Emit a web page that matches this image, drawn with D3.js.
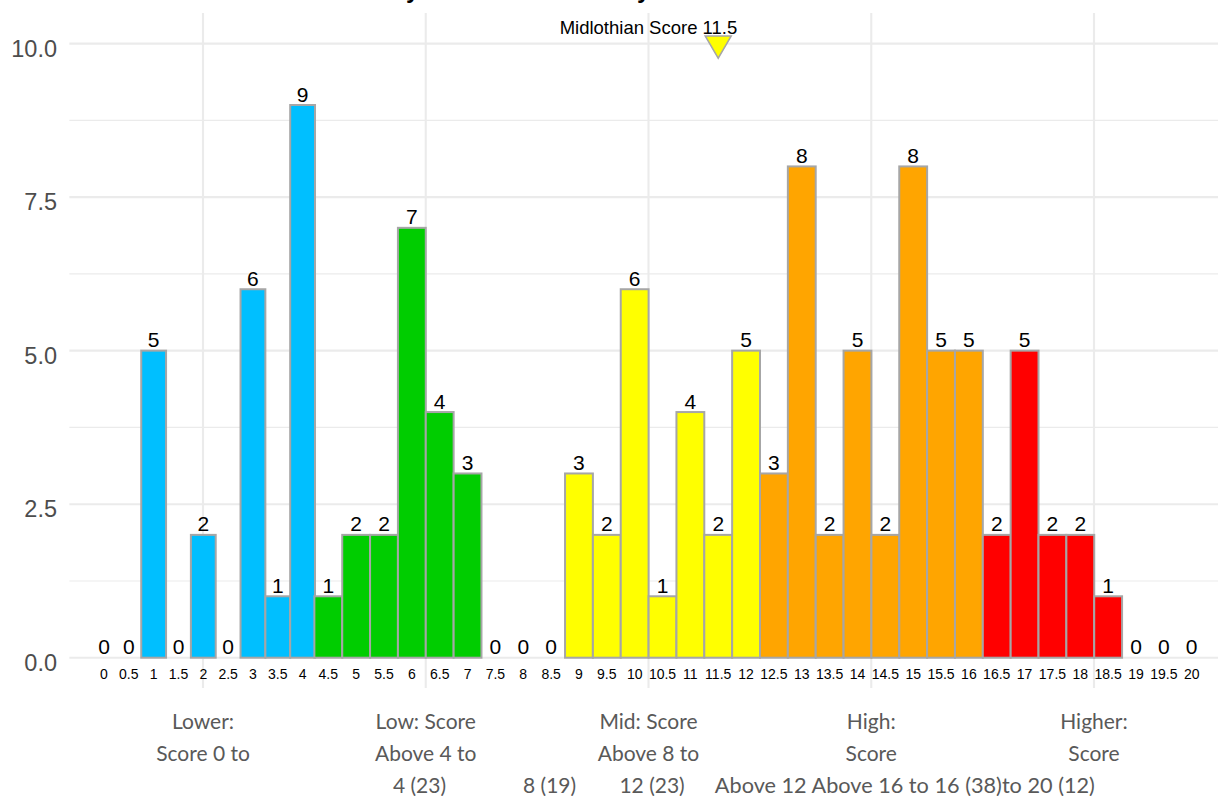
<!DOCTYPE html>
<html>
<head>
<meta charset="utf-8">
<script src="https://cdn.jsdelivr.net/npm/d3@7"></script>
<style>
  html, body { margin: 0; padding: 0; background: #ffffff; }
  svg { display: block; }
</style>
</head>
<body>
<svg id="chart" width="1218" height="796"></svg>
<script>
// Score bins (x categories) and number of areas in each bin
const scoreBins = [0, 0.5, 1, 1.5, 2, 2.5, 3, 3.5, 4, 4.5, 5, 5.5, 6, 6.5, 7, 7.5, 8, 8.5, 9, 9.5,
                   10, 10.5, 11, 11.5, 12, 12.5, 13, 13.5, 14, 14.5, 15, 15.5, 16, 16.5, 17, 17.5,
                   18, 18.5, 19, 19.5, 20];
const counts = [0, 0, 5, 0, 2, 0, 6, 1, 9, 1, 2, 2, 7, 4, 3, 0, 0, 0, 3, 2,
                6, 1, 4, 2, 5, 3, 8, 2, 5, 2, 8, 5, 5, 2, 5, 2,
                2, 1, 0, 0, 0];

// Score bands: upper bound of each band and its fill
const bandUpper = [4, 8, 12, 16, 20];
const bandColors = ["#00BFFF", "#00CD00", "#FFFF00", "#FFA500", "#FF0000"];

// Band labels, as wrapped on the lower axis
const bandLine1 = ["Lower:", "Low: Score", "Mid: Score", "High:", "Higher:"];
const bandLine2 = ["Score 0 to", "Above 4 to", "Above 8 to", "Score", "Score"];
const bandLine3 = ["4 (23)", "8 (19)", "12 (23)", "Above 12 Above 16 to 16 (38)to 20 (12)"];

// Y axis ticks
const yMajor = [0, 2.5, 5, 7.5, 10];
const yMinor = [1.25, 3.75, 6.25, 8.75];

// Highlighted area
const markerName = "Midlothian";
const markerScore = 11.5;
const markerLevel = 10;

const svg = d3.select("#chart");

// Panel
const panelTop = 13, panelBottom = 688;

// Scales
const y = d3.scaleLinear().domain([0, 10]).range([657.7, 43.6]);
const xBand = d3.scaleLinear().domain([1, 5]).range([203, 1094]);
const x = d3.scaleLinear().domain([0, 4, 4.5, 20]).range([104, 302.6, 328.3, 1191.7]);
const stepLeft = (x(4) - x(0)) / 8;
const stepRight = (x(20) - x(4.5)) / 31;
const barWidth = v => (v <= 4 ? stepLeft : stepRight);
const bandOf = v => bandUpper.findIndex(u => v <= u);

const panelLeft = xBand(0.4), panelRight = xBand(5.6);

// Grid
const grid = svg.append("g");
grid.selectAll(".hminor").data(yMinor).join("line")
  .attr("x1", panelLeft).attr("x2", panelRight)
  .attr("y1", d => y(d)).attr("y2", d => y(d))
  .attr("stroke", "#EBEBEB").attr("stroke-width", 1.1);
grid.selectAll(".hmajor").data(yMajor).join("line")
  .attr("x1", panelLeft).attr("x2", panelRight)
  .attr("y1", d => y(d)).attr("y2", d => y(d))
  .attr("stroke", "#EBEBEB").attr("stroke-width", 2.1);
grid.selectAll(".vmajor").data(d3.range(1, 6)).join("line")
  .attr("x1", d => xBand(d)).attr("x2", d => xBand(d))
  .attr("y1", panelTop).attr("y2", panelBottom)
  .attr("stroke", "#EBEBEB").attr("stroke-width", 2.1);

// Y axis labels
svg.append("g").selectAll("text").data(yMajor).join("text")
  .attr("x", 57).attr("y", d => y(d) + 13)
  .attr("text-anchor", "end")
  .attr("font-family", "'Liberation Sans', Arial, sans-serif")
  .attr("font-size", 23.5)
  .attr("fill", "#4D4D4D")
  .text(d => d3.format(".1f")(d));

// Bars
const data = scoreBins.map((s, i) => ({ score: s, count: counts[i] }));
svg.append("g").selectAll("rect").data(data).join("rect")
  .attr("x", d => x(d.score) - barWidth(d.score) / 2)
  .attr("width", d => barWidth(d.score))
  .attr("y", d => y(d.count))
  .attr("height", d => y(0) - y(d.count))
  .attr("fill", d => bandColors[bandOf(d.score)])
  .attr("stroke", "#A6A6A6")
  .attr("stroke-width", 2);

// Count labels above bars
svg.append("g").selectAll("text").data(data).join("text")
  .attr("x", d => x(d.score))
  .attr("y", d => y(d.count) - 3.5)
  .attr("text-anchor", "middle")
  .attr("font-family", "'Liberation Sans', Arial, sans-serif")
  .attr("font-size", 21)
  .attr("fill", "#000")
  .text(d => d.count);

// Score bin labels
svg.append("g").selectAll("text").data(scoreBins).join("text")
  .attr("x", d => x(d))
  .attr("y", 679.3)
  .attr("text-anchor", "middle")
  .attr("font-family", "'Liberation Sans', Arial, sans-serif")
  .attr("font-size", 14)
  .attr("fill", "#000")
  .text(d => d);

// Band labels
const bandFont = "Lato, 'Open Sans', sans-serif";
const bandText = svg.append("g")
  .attr("font-family", bandFont)
  .attr("font-size", 21)
  .attr("fill", "#595959");
bandText.selectAll(".l1").data(bandLine1).join("text")
  .attr("x", (d, i) => xBand(i + 1)).attr("y", 728.5)
  .attr("text-anchor", "middle").text(d => d);
bandText.selectAll(".l2").data(bandLine2).join("text")
  .attr("x", (d, i) => xBand(i + 1)).attr("y", 760.5)
  .attr("text-anchor", "middle").text(d => d);
// third line of the wrapped labels runs together along the bottom edge
const line3Pos = [
  { at: xBand(1.972), anchor: "middle" },
  { at: xBand(2.556), anchor: "middle" },
  { at: xBand(3.016), anchor: "middle" },
  { at: xBand(3.298), anchor: "start", span: xBand(5.004) - xBand(3.298) }
];
bandText.selectAll(".l3").data(bandLine3).join("text")
  .attr("x", (d, i) => line3Pos[i].at).attr("y", 792.5)
  .attr("text-anchor", (d, i) => line3Pos[i].anchor)
  .each(function (d, i) {
    if (line3Pos[i].span) {
      d3.select(this).attr("textLength", line3Pos[i].span)
        .attr("lengthAdjust", "spacingAndGlyphs");
    }
  })
  .text(d => d);

// Highlighted area marker
const mx = x(markerScore), my = y(markerLevel);
svg.append("path")
  .attr("d", d3.line()([[mx - 13, my - 7.6], [mx + 13, my - 7.6], [mx, my + 14.6]]) + "Z")
  .attr("fill", "#FFFF00")
  .attr("stroke", "#A6A6A6")
  .attr("stroke-width", 1.5);
svg.append("text")
  .attr("x", mx + 19).attr("y", my - 9.3)
  .attr("text-anchor", "end")
  .attr("font-family", "'Liberation Sans', Arial, sans-serif")
  .attr("font-size", 18.5)
  .attr("fill", "#000")
  .text(`${markerName} Score ${markerScore}`);

// Title sits above the visible frame; only descenders reach into view
svg.append("g")
  .attr("font-family", "'Liberation Sans', Arial, sans-serif")
  .attr("font-weight", "bold")
  .attr("font-size", 24)
  .selectAll("text").data([406, 637]).join("text")
  .attr("x", d => d).attr("y", -2)
  .text("y");
</script>
</body>
</html>
